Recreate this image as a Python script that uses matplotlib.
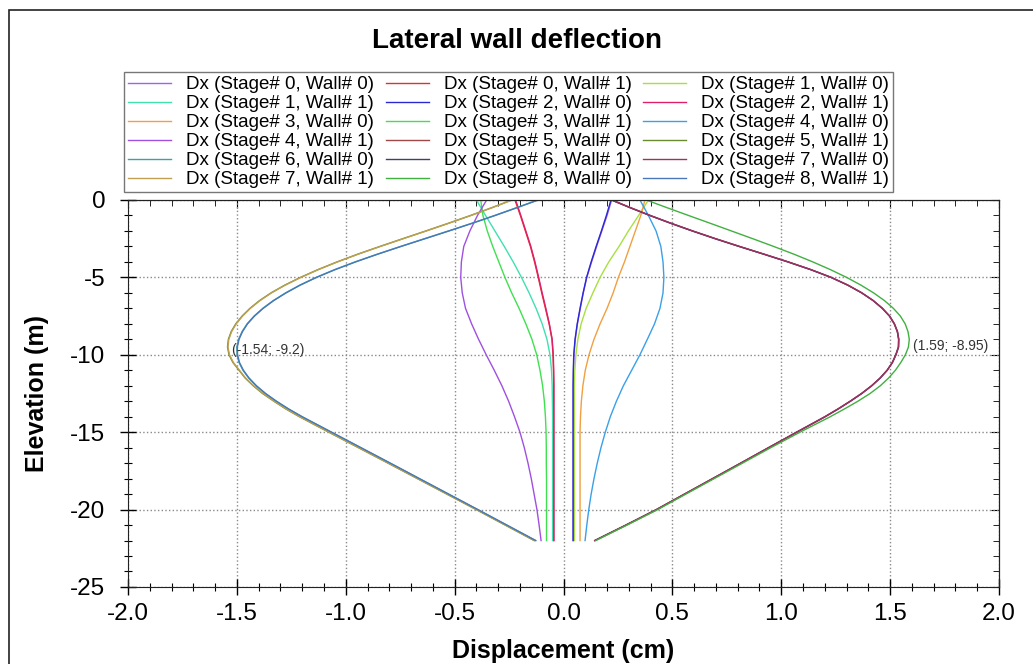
import matplotlib
matplotlib.use("Agg")
import matplotlib.pyplot as plt
from matplotlib.patches import Rectangle
from matplotlib.ticker import MultipleLocator, FormatStrFormatter

plt.rcParams['font.family'] = ['Liberation Sans', 'DejaVu Sans']

# elevation of the read points (m), small curves
depth = [0, -1, -2, -3, -4, -5, -6, -7, -8, -9, -10, -11,
         -12, -13, -14, -15, -16, -17, -18, -19, -20, -21, -22]
# the big curves were read every half metre down to -14 m
depth_big = [0, -0.5, -1, -1.5, -2, -2.5, -3, -3.5, -4, -4.5, -5, -5.5, -6, -6.5,
             -7, -7.5, -8, -8.5, -9, -9.5, -10, -10.5, -11, -11.5, -12, -12.5,
             -13, -13.5, -14, -15, -16, -17, -18, -19, -20, -21, -22]

# displacement (cm) per stage / wall
s0w0 = [0.221, 0.200, 0.176, 0.152, 0.129, 0.107, 0.091, 0.077, 0.064, 0.054, 0.048, 0.046,
        0.045, 0.045, 0.045, 0.045, 0.045, 0.045, 0.045, 0.045, 0.045, 0.045, 0.045]
s0w1 = [-0.223, -0.198, -0.175, -0.152, -0.133, -0.116, -0.100, -0.083, -0.066, -0.053, -0.048, -0.046,
        -0.045, -0.045, -0.045, -0.045, -0.045, -0.045, -0.045, -0.045, -0.045, -0.045, -0.045]
s1w0 = [0.390, 0.345, 0.298, 0.255, 0.208, 0.168, 0.135, 0.104, 0.081, 0.066, 0.057, 0.052,
        0.050, 0.050, 0.050, 0.050, 0.050, 0.050, 0.050, 0.050, 0.050, 0.050, 0.050]
s1w1 = [-0.400, -0.358, -0.315, -0.272, -0.231, -0.193, -0.158, -0.126, -0.098, -0.076, -0.062, -0.055,
        -0.052, -0.051, -0.050, -0.050, -0.050, -0.050, -0.050, -0.050, -0.050, -0.050, -0.050]
s2w0 = [0.218, 0.197, 0.174, 0.150, 0.127, 0.106, 0.090, 0.076, 0.063, 0.053, 0.047, 0.045,
        0.044, 0.044, 0.044, 0.044, 0.044, 0.044, 0.044, 0.044, 0.044, 0.044, 0.044]
s2w1 = [-0.220, -0.196, -0.173, -0.150, -0.131, -0.114, -0.098, -0.081, -0.065, -0.052, -0.047, -0.045,
        -0.044, -0.044, -0.044, -0.044, -0.044, -0.044, -0.044, -0.044, -0.044, -0.044, -0.044]
s3w0 = [0.374, 0.355, 0.330, 0.305, 0.280, 0.252, 0.228, 0.200, 0.168, 0.140, 0.117, 0.100,
        0.089, 0.082, 0.078, 0.076, 0.076, 0.076, 0.076, 0.076, 0.076, 0.076, 0.076]
s3w1 = [-0.380, -0.370, -0.350, -0.325, -0.297, -0.269, -0.238, -0.204, -0.173, -0.145, -0.123, -0.108,
        -0.096, -0.088, -0.083, -0.080, -0.079, -0.079, -0.078, -0.078, -0.078, -0.078, -0.078]
s4w0 = [0.351, 0.390, 0.425, 0.447, 0.457, 0.461, 0.457, 0.443, 0.418, 0.385, 0.351, 0.313,
        0.275, 0.243, 0.215, 0.192, 0.172, 0.155, 0.140, 0.127, 0.116, 0.107, 0.099]
s4w1 = [-0.353, -0.395, -0.430, -0.458, -0.469, -0.472, -0.465, -0.450, -0.422, -0.390, -0.355, -0.318,
        -0.283, -0.252, -0.225, -0.200, -0.180, -0.163, -0.148, -0.135, -0.122, -0.112, -0.103]
s5w0 = [0.221, 0.307, 0.397, 0.492, 0.592, 0.697, 0.807, 0.920, 1.031, 1.136, 1.229, 1.306, 1.370, 1.423,
        1.465, 1.498, 1.520, 1.534, 1.540, 1.539, 1.527, 1.511, 1.487, 1.455, 1.416, 1.370,
        1.318, 1.262, 1.202, 1.072, 0.943, 0.815, 0.686, 0.557, 0.428, 0.288, 0.145]
s5w1 = [-0.238, -0.330, -0.427, -0.528, -0.632, -0.738, -0.843, -0.945, -1.040, -1.128, -1.208, -1.280, -1.343, -1.396,
        -1.440, -1.476, -1.505, -1.526, -1.539, -1.543, -1.536, -1.518, -1.490, -1.462, -1.425, -1.382,
        -1.330, -1.275, -1.213, -1.078, -0.942, -0.806, -0.671, -0.536, -0.401, -0.268, -0.135]
s6w0 = [-0.118, -0.216, -0.316, -0.420, -0.528, -0.638, -0.748, -0.855, -0.957, -1.051, -1.136, -1.211, -1.276, -1.333,
        -1.381, -1.421, -1.453, -1.476, -1.492, -1.500, -1.499, -1.490, -1.472, -1.446, -1.412, -1.370,
        -1.320, -1.264, -1.202, -1.067, -0.932, -0.797, -0.663, -0.529, -0.395, -0.262, -0.129]
s6w1 = [0.220, 0.306, 0.396, 0.491, 0.591, 0.696, 0.806, 0.919, 1.030, 1.135, 1.228, 1.305, 1.369, 1.422,
        1.464, 1.497, 1.519, 1.533, 1.539, 1.538, 1.526, 1.510, 1.486, 1.454, 1.415, 1.369,
        1.317, 1.261, 1.201, 1.071, 0.942, 0.814, 0.685, 0.556, 0.427, 0.287, 0.144]
s7w0 = [0.223, 0.309, 0.399, 0.494, 0.594, 0.699, 0.809, 0.922, 1.033, 1.137, 1.230, 1.306, 1.370, 1.422,
        1.464, 1.497, 1.519, 1.533, 1.539, 1.538, 1.526, 1.510, 1.486, 1.454, 1.415, 1.369,
        1.316, 1.260, 1.200, 1.070, 0.941, 0.813, 0.684, 0.555, 0.426, 0.286, 0.143]
s7w1 = [-0.236, -0.328, -0.425, -0.526, -0.630, -0.736, -0.841, -0.943, -1.038, -1.126, -1.206, -1.278, -1.341, -1.394,
        -1.438, -1.474, -1.503, -1.524, -1.537, -1.541, -1.534, -1.516, -1.488, -1.460, -1.423, -1.380,
        -1.328, -1.273, -1.211, -1.076, -0.940, -0.804, -0.669, -0.534, -0.399, -0.266, -0.133]
s8w0 = [0.380, 0.476, 0.574, 0.673, 0.771, 0.869, 0.965, 1.058, 1.145, 1.226, 1.300, 1.366, 1.424, 1.474,
        1.515, 1.547, 1.569, 1.582, 1.588, 1.584, 1.570, 1.549, 1.524, 1.493, 1.455, 1.408,
        1.352, 1.290, 1.225, 1.086, 0.952, 0.822, 0.692, 0.562, 0.433, 0.292, 0.148]
s8w1 = [-0.116, -0.214, -0.314, -0.418, -0.526, -0.636, -0.746, -0.853, -0.955, -1.049, -1.134, -1.209, -1.274, -1.331,
        -1.379, -1.419, -1.451, -1.474, -1.490, -1.498, -1.497, -1.488, -1.470, -1.444, -1.410, -1.368,
        -1.318, -1.262, -1.200, -1.065, -0.930, -0.795, -0.661, -0.527, -0.393, -0.260, -0.127]

series = [s0w0, s0w1, s1w0, s1w1, s2w0, s2w1, s3w0, s3w1, s4w0,
          s4w1, s5w0, s5w1, s6w0, s6w1, s7w0, s7w1, s8w0, s8w1]
labels = ["Dx (Stage# %d, Wall# %d)" % (i // 2, i % 2) for i in range(18)]
colors = ['#a060f0', '#e03030', '#a8e040', '#40e0b0', '#2a2ad0', '#e0206a',
          '#f0a040', '#40e050', '#3aa0e8', '#a050e0', '#a04848', '#6a8a30',
          '#40a0a8', '#404070', '#a03060', '#c0a050', '#40b040', '#4878b8']

peaks = [(-1.54, -9.2), (1.59, -8.95)]

fig = plt.figure(figsize=(10.33, 6.64), dpi=100)
ax = fig.add_axes([0.1239, 0.116, 0.8432, 0.5828])

handles = []
for xs, lab, col in zip(series, labels, colors):
    ys = depth if len(xs) == len(depth) else depth_big
    ln, = ax.plot(xs, ys, color=col, lw=1.0, label=lab)
    handles.append(ln)

for px, py in peaks:
    ax.annotate("(%g; %g)" % (px, py), xy=(px, py), xytext=(2.5, -5.7),
                textcoords='offset points', ha='left', va='center',
                fontsize=10, color='#333333')

ax.set_xlim(-2.0, 2.0)
ax.set_ylim(-25, 0)
ax.xaxis.set_major_locator(MultipleLocator(0.5))
ax.xaxis.set_minor_locator(MultipleLocator(0.1))
ax.yaxis.set_major_locator(MultipleLocator(5))
ax.yaxis.set_minor_locator(MultipleLocator(1))
ax.xaxis.set_major_formatter(FormatStrFormatter('%.1f'))
ax.yaxis.set_major_formatter(FormatStrFormatter('%d'))
ax.tick_params(which='major', direction='inout', length=11.5, width=1,
               labelsize=17.5)
ax.tick_params(which='minor', direction='inout', length=6, width=0.8)
ax.tick_params(axis='x', which='major', pad=6)
ax.tick_params(axis='y', which='major', pad=10.5)
ax.grid(True, which='major', linestyle=':', color='#8a8a8a', lw=1)
for sp in ax.spines.values():
    sp.set_color('#222222')

# ticks on top and right point inward
top = ax.secondary_xaxis('top')
top.xaxis.set_major_locator(MultipleLocator(0.5))
top.xaxis.set_minor_locator(MultipleLocator(0.1))
top.tick_params(which='major', direction='in', length=6, labeltop=False)
top.tick_params(which='minor', direction='in', length=4)
right = ax.secondary_yaxis('right')
right.yaxis.set_major_locator(MultipleLocator(5))
right.yaxis.set_minor_locator(MultipleLocator(1))
right.tick_params(which='major', direction='in', length=6, labelright=False)
right.tick_params(which='minor', direction='in', length=4)

ax.set_xlabel("Displacement (cm)", fontsize=18, fontweight='bold', labelpad=10)
ax.set_ylabel("Elevation (m)", fontsize=18, fontweight='bold', labelpad=15)

fig.text(0.5, 0.938, "Lateral wall deflection", ha='center', va='center',
         fontsize=20, fontweight='bold')

# legend is filled row by row in the original
order = [r * 3 + c for c in range(3) for r in range(6)]
leg = fig.legend([handles[i] for i in order], [labels[i] for i in order],
                 ncol=3, loc='upper left', bbox_to_anchor=(124 / 1033, 1 - 72 / 664),
                 borderaxespad=0, fontsize=13.5, handlelength=2.3, handletextpad=0.8,
                 columnspacing=0.6, labelspacing=0.1, borderpad=0.22,
                 fancybox=False, framealpha=1, edgecolor='#777777')
leg.get_frame().set_linewidth(1.0)

# outer frame around the chart
fig.patches.append(Rectangle((9 / 1033, -0.2), 1.2, 1.2 - 10 / 664,
                             transform=fig.transFigure, fill=False,
                             edgecolor='#222222', lw=1.2))

fig.savefig("out.png", dpi=100)
